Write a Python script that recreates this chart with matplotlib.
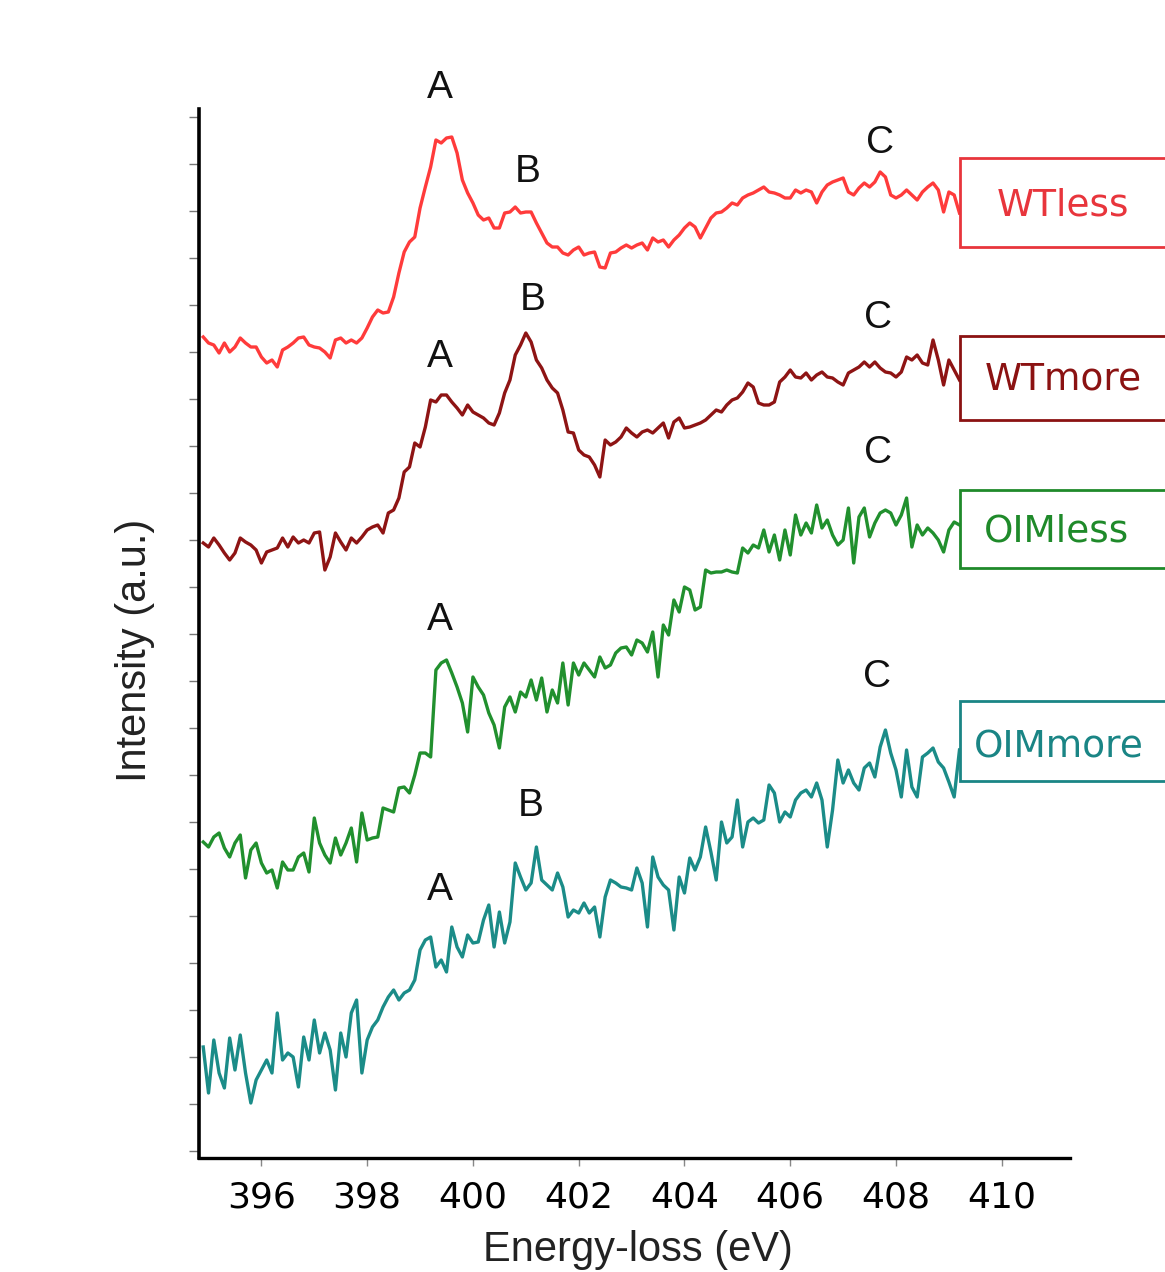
# EELS N K-edge spectra - WT / OIM samples, stacked with vertical offsets
# Peaks A, B, C marked on each spectrum

import numpy as np
import matplotlib.pyplot as plt
from matplotlib.patches import Rectangle

# -------------------------- DATA --------------------------
energy = np.linspace(394.9, 409.2, 144)   # eV, 0.1 eV steps

# intensities (a.u.), already offset for stacking
wtless = [814, 808, 806, 798, 808, 799, 804, 813, 808, 804, 804,
          794, 788, 791, 784, 801, 804, 808, 813, 814, 806,
          804, 803, 799, 793, 811, 813, 808, 811, 808, 813,
          823, 834, 841, 838, 839, 854, 878, 899, 909, 914,
          943, 964, 984, 1011, 1008, 1013, 1014, 998, 971, 958,
          948, 936, 931, 933, 923, 923, 938, 939, 944, 938,
          939, 939, 928, 918, 908, 904, 904, 898, 896,
          901,
          904, 896, 898, 899, 884, 883, 898, 899, 903, 906,
          903, 906, 908, 901, 913, 909, 911, 904, 911, 916,
          923, 928, 924, 913, 923, 933, 938, 939, 943, 948,
          946, 953, 956, 958, 961, 964, 959, 958, 956, 953,
          953, 961, 958, 961, 959, 948, 959, 966, 969, 971,
          973, 959, 956, 963, 968, 964, 969, 979, 974, 956,
          953, 956, 961, 956, 951, 959, 964, 968, 961, 939,
          959, 956, 938]

wtmore = [608, 604, 613, 606, 598, 591, 598, 613, 609, 606, 601,
          588, 599, 601, 603, 613, 604, 614, 608, 611, 608,
          618, 619, 581, 594, 618, 609, 601, 613, 608, 614,
          621, 624, 626, 618, 638, 641, 653, 679, 684, 708,
          704, 724, 751, 749, 756, 756, 749, 743, 736, 746,
          739, 736, 733, 728, 726, 738, 758, 771, 796, 806,
          818, 809, 791, 783, 771, 763, 758, 741, 719,
          718,
          701, 696, 694, 686, 674, 711, 706, 709, 714, 723,
          718, 714, 719, 721, 718, 723, 728, 713, 729, 733,
          723, 724, 726, 728, 731, 736, 741, 739, 746, 751,
          753, 759, 768, 764, 748, 746, 746, 749, 769, 774,
          781, 774, 773, 778, 771, 776, 779, 774, 773, 769,
          766, 778, 781, 784, 789, 784, 789, 783, 779, 778,
          774, 779, 794, 791, 796, 788, 786, 811, 791, 766,
          791, 781, 771]

oimless = [309, 304, 314, 318, 303, 294, 308, 316, 273, 301, 308,
           288, 278, 281, 263, 289, 281, 281, 294, 298, 279,
           333, 308, 296, 288, 313, 296, 308, 323, 289, 338,
           311, 313, 314, 343, 341, 339, 363, 364, 358, 376,
           398, 398, 394, 481, 488, 491, 478, 464, 448, 419,
           474, 464, 456, 438, 426, 403, 444, 454, 439, 459,
           454, 471, 451, 473, 439, 461, 448, 488, 446,
           488,
           476, 488, 481, 474, 494, 483, 486, 498, 503, 504,
           496, 511, 508, 499, 519, 474, 526, 516, 551, 539,
           564, 561, 541, 544, 581, 578, 579, 579, 581, 579,
           578, 603, 598, 606, 603, 621, 599, 616, 591, 621,
           596, 636, 616, 628, 618, 646, 623, 631, 616, 606,
           611, 643, 588, 634, 643, 614, 628, 638, 641, 638,
           626, 636, 653, 604, 626, 616, 623, 618, 611, 599,
           621, 629, 626]

oimmore = [104, 58, 111, 78, 63, 113, 81, 116, 78, 48, 71,
           81, 91, 78, 138, 91, 98, 94, 64, 114, 91,
           131, 98, 118, 101, 61, 118, 94, 138, 151, 78,
           111, 124, 131, 144, 154, 161, 151, 158, 161, 171,
           201, 211, 214, 184, 191, 179, 224, 204, 194, 216,
           208, 209, 231, 246, 204, 239, 208, 229, 288, 274,
           261, 268, 304, 271, 266, 261, 278, 264, 234,
           241,
           238, 248, 238, 244, 214, 254, 271, 268, 264, 263,
           261, 283, 268, 224, 294, 274, 266, 261, 221, 274,
           258, 293, 281, 294, 324, 299, 271, 329, 308, 314,
           351, 304, 329, 333, 328, 331, 366, 358, 329, 339,
           334, 351, 358, 361, 354, 368, 351, 304, 341, 391,
           368, 381, 368, 361, 383, 388, 374, 404, 421, 398,
           381, 354, 401, 364, 354, 394, 398, 403, 389, 383,
           369, 354, 401]

names = ['WTless', 'WTmore', 'OIMless', 'OIMmore']
line_colors = ['#ff3b3b', '#8e1414', '#21902e', '#1b8c88']
text_colors = ['#e8353c', '#8b1212', '#1f8a2a', '#1a8585']

# peak letters: (label, energy, intensity)
peaks = [('A', 399.38, 1063), ('B', 401.04, 979), ('C', 407.70, 1008),
         ('A', 399.38, 794), ('B', 401.13, 851), ('C', 407.66, 833),
         ('C', 407.66, 698), ('A', 399.38, 531),
         ('C', 407.64, 474), ('B', 401.10, 345), ('A', 399.38, 261)]

# -------------------------- FIGURE --------------------------
W, H = 1165, 1272
fig = plt.figure(figsize=(W / 100, H / 100), dpi=100)
ax = fig.add_axes([199 / W, 1 - 1158 / H, 871 / W, 1049 / H])

for y, c in zip([wtless, wtmore, oimless, oimmore], line_colors):
    ax.plot(energy, y, color=c, lw=2.4)

for lab, xe, yi in peaks:
    ax.text(xe, yi, lab, ha='center', va='center', fontsize=28,
            family='Liberation Sans', color='#111111')

ax.set_xlim(394.82, 411.29)
ax.set_ylim(-7, 1042)
ax.set_xticks(np.arange(396, 411, 2))
ax.set_yticks(np.arange(0, 1035, 47))
ax.set_yticklabels([])
ax.tick_params(axis='x', labelsize=26, length=6, width=1, color='#888888', pad=10)
ax.tick_params(axis='y', length=7, width=1, color='#777777')

for s in ['top', 'right']:
    ax.spines[s].set_visible(False)
ax.spines['left'].set_linewidth(2.6)
ax.spines['bottom'].set_linewidth(2.4)

fig.text(638 / W, 1 - 1250 / H, 'Energy-loss (eV)', ha='center', va='center',
         fontsize=30, family='Liberation Sans', color='#222222')
fig.text(135 / W, 1 - 650 / H, 'Intensity (a.u.)', ha='center', va='center',
         rotation=90, fontsize=30, family='Liberation Sans', color='#222222')

# -------------------------- SAMPLE LABEL BOXES --------------------------
boxes = [(158, 247, 1063, 206), (336, 420, 1063, 380),
         (490, 568, 1057, 531), (701, 781, 1059, 747)]
for (y0, y1, tx, ty), name, ec, tc in zip(boxes, names, line_colors, text_colors):
    fig.add_artist(Rectangle((960 / W, 1 - y1 / H), 215 / W, (y1 - y0) / H,
                             transform=fig.transFigure, facecolor='white',
                             edgecolor=tc, lw=2.0, zorder=5))
    fig.text(tx / W, 1 - ty / H, name, ha='center', va='center', fontsize=27,
             color=tc, zorder=6)

plt.savefig('out.png', dpi=100)
